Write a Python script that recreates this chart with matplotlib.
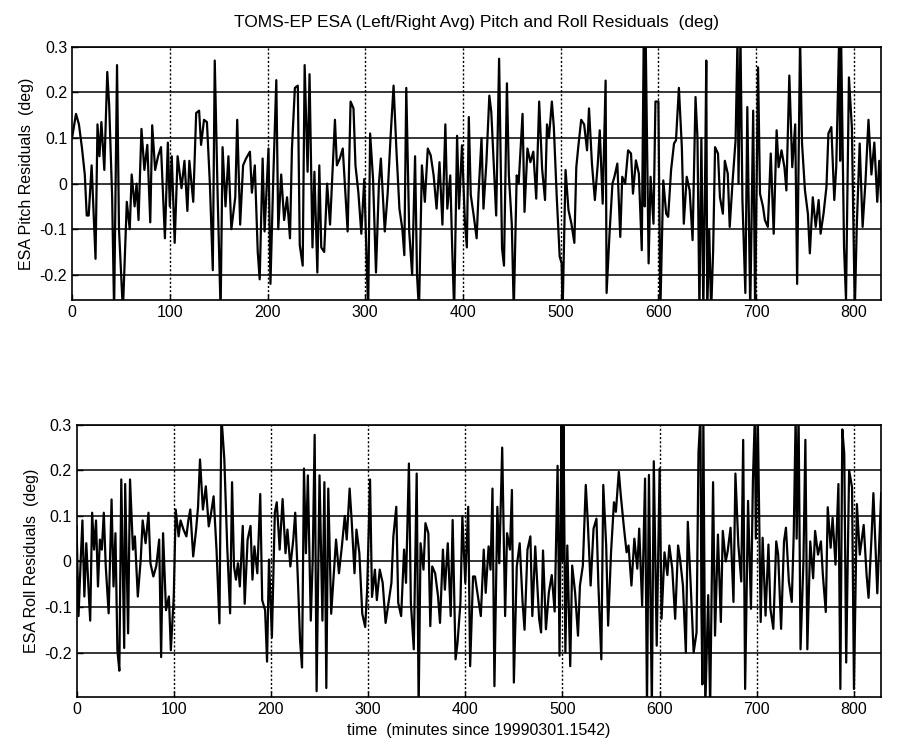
import matplotlib
matplotlib.use("Agg")
import matplotlib.pyplot as plt

plt.rcParams['font.family'] = ['Liberation Sans', 'DejaVu Sans']

# pitch residuals (time in minutes, value in deg)
pitch_t = [0, 4, 7, 10, 13, 15, 17, 20, 21, 24, 26, 28, 30, 33, 36, 38, 41, 43, 46, 48,
           52, 56, 59, 61, 64, 66, 68, 71, 74, 77, 80, 82, 85, 88, 91, 95, 98, 100, 102, 105,
           108, 112, 115, 118, 120, 124, 127, 130, 132, 135, 138, 141, 144, 146, 149, 152, 154, 157,
           160, 163, 167, 169, 172, 175, 178, 182, 184, 187, 190, 192, 195, 197, 201, 203, 206, 209,
           211, 214, 217, 220, 223, 225, 228, 231, 233, 236, 238, 241, 243, 246, 248, 251, 253, 255,
           258, 261, 264, 266, 269, 271, 274, 277, 280, 282, 285, 288, 290, 293, 296, 299, 303, 305,
           308, 311, 314, 316,
           320, 323, 326, 329, 332, 335, 338, 340, 342, 345, 348, 351, 353, 355, 358, 361, 364, 367,
           370, 373, 376, 379, 382, 384, 387, 389, 391, 394, 396, 399, 402, 404, 406, 408, 411, 414,
           416, 419, 421, 424, 427, 429, 432, 434, 437, 440, 442, 445, 447, 450, 452, 455, 457, 461,
           463, 466, 469, 472, 475, 478,
           481, 484, 486, 488, 491, 493, 496, 499, 501, 502, 505, 508, 511, 514, 516, 518, 521, 524,
           527, 529, 532, 535, 538, 540, 543, 546, 547, 550, 553, 555, 558, 561, 563, 566, 569, 572,
           574, 577, 580, 583, 585, 586, 587, 590, 592, 595, 597, 600, 602, 605, 608, 610, 613, 616,
           618, 621, 624, 626, 629, 632, 635, 638, 640, 642,
           644, 646, 648, 649, 650, 652, 654, 656, 658, 661, 663, 666, 668, 671, 673, 676, 679, 681,
           682, 684, 686, 689, 691, 694, 697, 699, 702, 704, 707, 709, 712, 715, 718, 721, 723, 726,
           729, 731, 734, 737, 740, 742, 745, 747, 750, 753, 755, 758, 761, 764, 766, 769, 772, 774,
           777, 780, 782, 785, 786, 787, 790, 792, 795, 798, 801, 803, 806, 809, 812, 815, 818, 821,
           824, 826, 828]
pitch_v = [0.10, 0.153, 0.13, 0.08, 0.02, -0.07, -0.07, 0.04, -0.01, -0.165, 0.13, 0.06, 0.135, 0.03,
           0.245, 0.17, -0.03, -0.28, 0.26, -0.10, -0.28, -0.04, -0.10, 0.02, -0.05, 0.0, -0.08, 0.12,
           0.03, 0.085, -0.085, 0.128, 0.03, 0.06, 0.08, -0.12, 0.09, -0.05, 0.06, -0.13, 0.06, -0.01,
           0.05, -0.06, 0.05, -0.04, 0.155, 0.16, 0.085, 0.14, 0.135, 0.0, -0.19, 0.27, -0.03, -0.28,
           0.08, -0.05,
           0.06, -0.10, -0.03, 0.14, -0.09, 0.04, 0.055, 0.07, -0.02, 0.04, -0.15, -0.21, 0.055, -0.105,
           0.077, -0.22, 0.02, 0.227, -0.10, 0.02, -0.08, -0.03, -0.12, 0.077, 0.21, 0.215, -0.135,
           -0.18, 0.26, 0.026, 0.24, -0.14, 0.026, -0.195, 0.04, -0.14, -0.15, 0.0, -0.09, 0.0, 0.14,
           0.04, 0.055, 0.077, -0.03, -0.105, 0.18, 0.165, 0.04, -0.02, -0.11, 0.01, -0.28, 0.11, 0.01,
           -0.195, 0.0, 0.055,
           -0.105, -0.02, 0.105, 0.215, 0.07, -0.055, -0.10, -0.157, 0.21, -0.105, -0.20, 0.06, -0.20,
           -0.28, 0.04, -0.04, 0.077, 0.062, 0.018, -0.055, 0.047, -0.09, 0.13, -0.055, 0.018, -0.142,
           -0.28, 0.105, -0.055, 0.084, -0.084, -0.14, 0.146, -0.025, -0.07, -0.12, -0.02, 0.10, -0.055,
           0.047, 0.193, 0.157, 0.018, -0.07, 0.274, -0.142, -0.18, 0.22, 0.018, -0.09, -0.28, 0.018,
           0.0, 0.153, -0.062, 0.077, 0.047, 0.07, -0.033, 0.18,
           0.033, -0.036, 0.13, 0.10, 0.18, 0.124, -0.03, -0.16, -0.175, -0.28, 0.03, -0.058, -0.088,
           -0.13, 0.036, 0.08, 0.14, 0.13, 0.073, 0.165, 0.044, -0.036, 0.044, 0.117, -0.044, 0.226,
           -0.24, -0.11, 0.0, 0.015, 0.044, -0.117, 0.015, 0.0, 0.073, 0.066, -0.022, 0.051, 0.022,
           -0.146, 0.32, -0.05, 0.32, -0.175, 0.015, -0.088, 0.18, 0.18, -0.28, 0.007, -0.066, -0.073,
           0.03, 0.088, 0.095, 0.21, 0.08, -0.088, 0.015, -0.015, -0.124, 0.19, 0.10, -0.28,
           0.10, -0.28, 0.05, 0.27, -0.28, -0.10, -0.28, -0.15, 0.08, 0.066, -0.03, -0.066, 0.05, 0.022,
           -0.095, 0.007, 0.095, 0.32, 0.0, 0.32, -0.036, -0.24, 0.168, -0.28, 0.16, -0.28, 0.255,
           -0.022, -0.05, -0.08, -0.095, 0.066, -0.11, 0.117, 0.036, 0.073, 0.036, -0.015, 0.237, 0.036,
           0.13, -0.22, 0.32, 0.088, -0.015, -0.066, -0.153, -0.03, -0.095, -0.036, -0.11, -0.066,
           -0.007, 0.11, 0.124, -0.036, 0.036, 0.32, 0.05, 0.32, -0.14, -0.255, 0.233, 0.124, -0.28,
           -0.095, 0.088, -0.095, 0.007, 0.14, 0.02, 0.09, -0.04, 0.05, -0.04]

# roll residuals
roll_t = [0, 2, 4, 6, 8, 10, 12, 14, 16, 18, 20, 22, 24, 26, 28, 30, 33, 36, 38, 40, 42, 44, 46, 49,
          50, 53, 55, 58, 60, 63, 66, 68, 71, 74, 76, 79, 82, 85, 87, 89, 92, 95, 97, 100, 102, 105,
          107, 110, 113, 115, 117, 120, 123, 125, 127, 130, 133, 136, 138, 141, 144, 147, 149,
          152, 155, 158, 160, 162, 164, 166, 168, 171, 173, 176, 179, 181, 183, 186, 189, 191, 194,
          196, 198, 201, 204, 206, 209, 212, 215, 217, 220, 223, 225, 228, 230, 232, 234, 236, 238,
          241, 243, 245, 247, 250, 253, 255, 257, 259, 262, 265, 267, 270, 273, 276, 278, 281, 283,
          286, 288, 291, 294, 297, 299, 302, 304, 307, 309, 312,
          315, 318, 321, 324, 326, 329, 331, 334, 337, 339, 342, 344, 347, 350, 352, 354, 357, 359,
          362, 364, 366, 369, 372, 374, 377, 379, 382, 385, 387, 390, 392, 395, 397, 400, 403, 405,
          408, 410, 413, 416, 419, 421, 424, 426, 428, 430, 433, 435, 438, 441, 443, 446, 448, 450,
          453, 456, 459, 461, 464, 467, 469, 472,
          476, 478, 480, 483, 486, 489, 492, 495, 497, 499, 500, 501, 503, 505, 508, 510, 513, 516,
          518, 521, 524, 526, 529, 532, 535, 537, 540, 542, 545, 547, 550, 553, 555, 558, 560, 563,
          566, 568, 571, 574, 577, 579, 582, 585, 587, 589, 592, 594, 597, 600, 602, 605, 608, 610,
          613, 616, 619, 621, 624, 627, 629, 632, 635, 638, 640, 642, 643, 644,
          645, 647, 650, 652, 655, 657, 660, 663, 665, 668, 670, 673, 676, 678, 681, 684, 686, 688,
          691, 694, 696, 698, 699, 701, 704, 706, 709, 712, 714, 717, 720, 722, 725, 728, 730, 733,
          736, 738, 740, 741, 743, 745, 748, 750, 752, 755, 758, 760, 763, 766, 768, 771, 773, 776,
          778, 781, 784, 786, 788, 790, 792, 795, 798, 800, 803, 806, 810, 813, 815, 818, 820, 824,
          828]
roll_v = [0.077, -0.12, -0.01, 0.09, -0.077, 0.04, -0.048, -0.13, 0.107, 0.026, 0.09, -0.055, 0.048,
          0.026, 0.107, -0.01, -0.114, 0.136, -0.055, 0.062, -0.195, -0.24, 0.18, -0.19, 0.17, -0.158,
          0.18, 0.026, 0.055, -0.077, 0.004, 0.09, 0.04, 0.107, -0.004, -0.033, -0.01, 0.048, -0.21,
          0.062, -0.107, -0.077, -0.195, -0.077, 0.114, 0.055, 0.09, 0.07, 0.055, 0.09, 0.114, 0.011,
          0.07, 0.12, 0.224, 0.114, 0.165, 0.077, 0.10, 0.143, 0.026, -0.136, 0.32,
          0.226, 0.033, -0.114, 0.174, -0.011, -0.04, -0.004, -0.055, 0.078, -0.093, 0.048, 0.078,
          -0.04, 0.033, -0.026, 0.148, -0.085, -0.107, -0.22, 0.004, -0.167, 0.107, 0.13, 0.026, 0.137,
          0.018, 0.07, -0.011, 0.048, 0.107, -0.055, -0.174, -0.233, 0.204, 0.018, 0.189, -0.13, 0.004,
          0.278, -0.285, 0.189, -0.13, 0.174, -0.278, 0.16, -0.115, -0.018, 0.048, -0.026, 0.033, 0.10,
          0.048, 0.16, 0.093, -0.026, 0.07, 0.018, -0.115, -0.144, -0.063, 0.18, -0.078, -0.018,
          -0.085, -0.018,
          -0.047, -0.135, -0.091, -0.047, 0.055, 0.12, -0.091, -0.12, 0.026, -0.047, 0.215, -0.091,
          -0.193, 0.193, -0.32, 0.04, -0.018, 0.084, 0.062, -0.142, -0.011, -0.026, -0.077, -0.135,
          0.026, -0.062, 0.04, -0.12, 0.091, -0.215, -0.179, -0.091, 0.099, -0.047, 0.12, -0.23,
          -0.033, -0.033, -0.077, -0.12, 0.026, -0.069, 0.033, -0.018, 0.16, -0.274, 0.12, -0.004,
          0.25, -0.12, 0.062, 0.026, 0.157, -0.266, -0.011, 0.04, -0.091, -0.15, 0.026, 0.055, -0.12,
          0.033,
          -0.126, -0.156, 0.024, -0.149, -0.068, -0.03, -0.11, 0.21, -0.207, 0.32, 0.0, 0.32, -0.20,
          0.035, -0.23, -0.009, -0.068, -0.163, -0.053, -0.009, 0.168, 0.09, -0.053, 0.072, 0.094,
          -0.053, -0.215, 0.168, 0.035, -0.141, 0.02, 0.13, 0.109, 0.197, 0.146, 0.08, 0.02, 0.035,
          -0.053, 0.05, -0.016, 0.072, -0.097, 0.182, -0.32, 0.19, -0.32, 0.22, -0.185, 0.204, -0.126,
          0.02, -0.03, 0.035, -0.016, -0.126, 0.035, 0.006, -0.053, -0.20, 0.087, -0.053, -0.20,
          -0.156, 0.24, 0.32, -0.10, -0.27,
          0.32, -0.32, -0.074, -0.32, 0.174, -0.163, 0.059, -0.133, 0.067, 0.0, 0.022, 0.074, -0.089,
          0.193, 0.037, -0.044, 0.267, -0.28, 0.133, -0.104, 0.178, 0.32, 0.05, 0.32, -0.133, 0.052,
          -0.119, 0.037, -0.104, -0.148, 0.044, 0.015, -0.148, 0.044, 0.074, -0.044, -0.089, 0.059,
          0.32, 0.05, 0.32, -0.193, 0.0, 0.267, -0.193, 0.044, -0.037, 0.067, 0.015, 0.044, -0.03,
          -0.111, 0.119, 0.03, 0.096, -0.007, 0.17, -0.28, 0.29, 0.237, -0.222, 0.20, 0.163, -0.28,
          0.126, 0.015, 0.08, -0.03, -0.08, 0.05, 0.15, -0.07, 0.15]

x_ticks = [0, 100, 200, 300, 400, 500, 600, 700, 800]
y_ticks = [-0.2, -0.1, 0, 0.1, 0.2, 0.3]
y_ticklabels = ['-0.2', '-0.1', '0', '0.1', '0.2', '0.3']

fig = plt.figure(figsize=(9.01, 7.44), dpi=100)
ax1 = fig.add_axes([0.080, 0.597, 0.898, 0.340])
ax2 = fig.add_axes([0.085, 0.063, 0.893, 0.366])


def style_axes(ax, ylo):
    ax.set_xlim(0, 828)
    ax.set_ylim(ylo, 0.3)
    ax.set_xticks(x_ticks)
    ax.set_yticks(y_ticks)
    ax.set_yticklabels(y_ticklabels)
    ax.tick_params(direction='in', length=4, labelsize=11.5, width=1)
    # horizontal grid came out solid in the scan, vertical one dotted
    for y in y_ticks:
        ax.axhline(y, color='black', lw=1.1, zorder=1)
    for x in x_ticks[1:]:
        ax.axvline(x, color='black', lw=1.0, ls=(0, (1.5, 1.5)), zorder=1)
    for s in ax.spines.values():
        s.set_linewidth(1.2)


ax1.plot(pitch_t, pitch_v, color='black', lw=1.6, zorder=2)
style_axes(ax1, -0.255)
ax1.set_ylabel('ESA Pitch Residuals  (deg)', fontsize=11.5)
ax1.set_title('TOMS-EP ESA (Left/Right Avg) Pitch and Roll Residuals  (deg)', fontsize=12.5, pad=14)

ax2.plot(roll_t, roll_v, color='black', lw=1.6, zorder=2)
style_axes(ax2, -0.298)
ax2.set_ylabel('ESA Roll Residuals  (deg)', fontsize=11.5)
ax2.set_xlabel('time  (minutes since 19990301.1542)', fontsize=11.5)

fig.savefig('out.png', dpi=100)
